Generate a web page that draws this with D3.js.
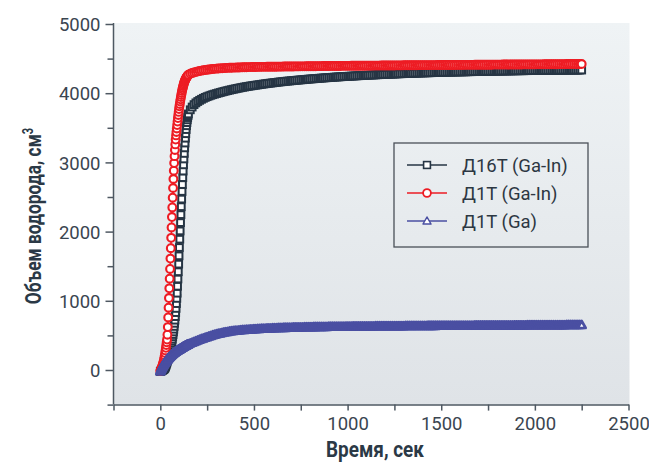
<!DOCTYPE html>
<html><head><meta charset="utf-8">
<script src="https://cdn.jsdelivr.net/npm/d3@7/dist/d3.min.js"></script>
<style>html,body{margin:0;padding:0;background:#fff;}svg{display:block;}</style>
</head><body>
<svg id="chart" width="649" height="463"></svg>
<script>
// ---- data ----
const timesFast = [0,2,4,6,8,10,12,14,16,18,20,22,24,26,28,30,32,34,36,38,40,42,44,46,48,50,52,54,56,58,60,62,64,66,68,70,72,74,76,78,80,82,84,86,88,90,92,94,96,98,100,102,104,106,108,110,112,114,116,118,120,122,124,126,128,130,132,134,136,138,140,142,144,146,148,150];
const timesSlow = [160,170,180,190,200,210,220,230,240,250,260,270,280,290,300,310,320,330,340,350,360,370,380,390,400,410,420,430,440,450,460,470,480,490,500,510,520,530,540,550,560,570,580,590,600,610,620,630,640,650,660,670,680,690,700,710,720,730,740,750,760,770,780,790,800,810,820,830,840,850,860,870,880,890,900,910,920,930,940,950,960,970,980,990,1000,1010,1020,1030,1040,1050,1060,1070,1080,1090,1100,1110,1120,1130,1140,1150,1160,1170,1180,1190,1200,1210,1220,1230,1240,1250,1260,1270,1280,1290,1300,1310,1320,1330,1340,1350,1360,1370,1380,1390,1400,1410,1420,1430,1440,1450,1460,1470,1480,1490,1500,1510,1520,1530,1540,1550,1560,1570,1580,1590,1600,1610,1620,1630,1640,1650,1660,1670,1680,1690,1700,1710,1720,1730,1740,1750,1760,1770,1780,1790,1800,1810,1820,1830,1840,1850,1860,1870,1880,1890,1900,1910,1920,1930,1940,1950,1960,1970,1980,1990,2000,2010,2020,2030,2040,2050,2060,2070,2080,2090,2100,2110,2120,2130,2140,2150,2160,2170,2180,2190,2200,2210,2220,2230,2240,2250];

// Д16Т (Ga-In)
const d16tFast = [-20,-17,-14,-10,-7,-4,0,3,7,10,15,21,28,38,50,65,82,98,115,132,150,170,190,212,235,258,283,310,336,363,390,417,445,480,513,550,590,630,675,720,772,830,890,960,1035,1110,1210,1315,1420,1530,1650,1770,1890,2010,2130,2245,2360,2470,2580,2680,2780,2875,2965,3050,3130,3210,3280,3350,3415,3475,3530,3575,3615,3648,3676,3700];
const d16tSlow = [3760,3800,3835,3860,3880,3897,3912,3926,3939,3950,3960,3970,3979,3987,3995,4003,4010,4018,4025,4032,4038,4045,4051,4057,4063,4069,4074,4080,4085,4090,4095,4099,4104,4108,4112,4116,4120,4124,4128,4132,4136,4139,4143,4146,4150,4153,4156,4160,4163,4166,4169,4172,4175,4177,4180,4183,4185,4188,4190,4193,4195,4198,4200,4203,4205,4207,4209,4211,4214,4216,4218,4220,4222,4224,4226,4228,4230,4232,4234,4235,4237,4239,4241,4242,4244,
4245,4247,4248,4250,4251,4253,4254,4256,4257,4259,
4260,4262,4263,4264,4265,4267,4268,4269,4271,4272,
4273,4274,4275,4276,4277,4279,4280,4281,4282,4283,
4284,4285,4286,4287,4288,4289,4290,4291,4292,4293,
4294,4295,4295,4296,4297,4298,4299,4299,4300,4301,
4302,4302,4303,4304,4304,4305,4306,4306,4307,4308,
4308,4309,4309,4310,4311,4311,4312,4312,4313,4314,
4314,4315,4315,4316,4316,4317,4317,4318,4318,4319,
4319,4320,4320,4321,4321,4322,4322,4323,4323,4324,
4324,4325,4325,4325,4326,4326,4327,4327,4327,4328,
4328,4328,4329,4329,4329,4330,4330,4330,4331,4331,
4331,4332,4332,4332,4332,4333,4333,4333,4333,4334,4334,4334,4334,4335,4335];

// Д1Т (Ga-In)
const d1tGaInFast = [-15,-5,8,20,36,52,70,88,105,122,150,180,210,245,282,320,360,400,440,510,620,760,900,1040,1180,1320,1460,1610,1760,1910,2060,2210,2350,2490,2630,2760,2880,2990,3090,3180,3260,3330,3390,3440,3490,3540,3590,3640,3685,3730,3770,3810,3845,3880,3912,3944,3974,4002,4030,4056,4080,4102,4122,4140,4157,4172,4186,4199,4210,4220,4230,4238,4246,4253,4260,4266];
const d1tGaInSlow = [4282,4292,4300,4308,4315,4321,4326,4331,4335,4339,4343,4346,4349,4352,4355,4357,4359,4361,4363,4364,4366,4367,4368,4369,4370,4371,4372,4373,4374,4375,4376,4377,4377,4378,4379,4379,4380,4380,
4381,4381,4381,4382,4382,4382,4383,4383,4383,4384,4384,4384,4385,4385,4385,4386,4386,4386,4387,4387,4387,4388,4388,4388,4389,4389,4389,4390,4390,4390,4391,4391,4391,4392,4392,4392,4393,4393,4393,4394,4394,4394,4394,4395,4395,4395,4395,
4395,4396,4396,4396,4396,4397,4397,4397,4397,4398,4398,4398,4398,4399,4399,4399,4399,4400,4400,4400,4400,4401,4401,4401,4401,4402,4402,4402,4402,4403,4403,4403,4403,4404,4404,4404,4404,4405,4405,4405,4405,4405,4406,4406,4406,4406,4406,4407,4407,4407,
4407,4407,4408,4408,4408,4408,4408,4409,4409,4409,4409,4409,4410,4410,4410,4410,4410,4411,4411,4411,4411,4411,4412,4412,4412,4412,4412,4413,4413,4413,4413,4413,4414,4414,4414,4414,4414,4415,4415,4415,4415,4415,4415,4416,4416,4416,4416,4416,4416,4416,
4417,4417,4417,4417,4418,4418,4418,4418,4419,4419,4419,4419,4420,4420,4420,4420,4421,4421,4421,4421,4421,4422,4422,4422,4422];

// Д1Т (Ga)
const d1tGaFast = [-20,-5,8,18,30,40,50,60,69,78,87,95,103,111,119,126,133,140,146,152,159,165,171,177,183,189,195,200,205,211,216,221,226,231,236,240,245,249,253,257,261,265,268,272,276,279,283,286,289,293,296,299,303,306,309,313,316,319,322,326,329,332,336,339,342,345,348,351,354,356,359,362,365,367,370,372];
const d1tGaSlow = [384,396,407,418,428,438,448,458,467,476,485,494,502,510,517,524,530,536,542,547,552,556,560,564,567,570,573,576,578,580,582,584,586,588,590,591,593,594,596,597,599,600,601,602,604,605,606,607,608,609,610,610,611,612,613,614,614,615,616,616,617,618,618,619,620,620,621,621,622,622,623,623,624,624,625,625,625,626,626,626,627,627,627,628,628,
628,628,629,629,629,629,630,630,630,630,631,631,631,631,632,632,632,632,633,633,633,633,634,634,634,634,635,635,635,635,636,636,636,636,637,637,637,637,638,638,638,638,639,639,639,639,639,640,640,640,
640,640,640,641,641,641,641,641,641,641,642,642,642,642,642,642,642,643,643,643,643,643,643,643,644,644,644,644,644,644,644,645,645,645,645,645,645,645,646,646,646,646,646,646,646,647,647,647,647,647,647,647,648,648,648,648,648,648,648,649,649,649,649,649,649,649,650,650,650,650,650,650,650,650,650];

const seriesNames = ["Д16Т (Ga-In)", "Д1Т (Ga-In)", "Д1Т (Ga)"];
const xTicks = [0,500,1000,1500,2000,2500];
const xMinorTicks = [-250,250,750,1250,1750,2250];
const yTicks = [0,1000,2000,3000,4000,5000];
const yMinorTicks = [-500,500,1500,2500,3500,4500];
const xTitle = "Время, сек";
const yTitle = "Объем водорода, см";

// ---- drawing ----
const times = timesFast.concat(timesSlow);
const seriesValues = [d16tFast.concat(d16tSlow), d1tGaInFast.concat(d1tGaInSlow), d1tGaFast.concat(d1tGaSlow)];
const colors = ["#263544", "#ed1c24", "#4a4fa2"];
const shapes = ["square", "circle", "triangle"];

const svg = d3.select("#chart");
const L = 113.5, R = 628.5, T = 23, B = 404.6;
const x = d3.scaleLinear().domain([-250, 2500]).range([L, R]);
const y = d3.scaleLinear().domain([-500, 5000]).range([B, 24]);

const defs = svg.append("defs");
const grad = defs.append("linearGradient").attr("id","bg").attr("x1",0).attr("y1",0).attr("x2",0).attr("y2",1);
grad.append("stop").attr("offset","0%").attr("stop-color","#eff3f5");
grad.append("stop").attr("offset","100%").attr("stop-color","#dfe3e7");
svg.append("rect").attr("x", L).attr("y", T).attr("width", R - L + 1).attr("height", B - T).attr("fill", "url(#bg)");

const axisColor = "#4e5862";
const tickFont = "Roboto, 'DejaVu Sans', sans-serif";

// y axis
const yAxis = svg.append("g").attr("transform", `translate(${L},0)`)
  .call(d3.axisLeft(y).tickValues(yTicks).tickSize(8).tickSizeOuter(0).tickPadding(5).tickFormat(d3.format("d")));
const yMinor = svg.append("g").attr("transform", `translate(${L},0)`)
  .call(d3.axisLeft(y).tickValues(yMinorTicks).tickSize(6).tickSizeOuter(0).tickFormat(""));
yMinor.select(".domain").remove();
// x axis
const xAxis = svg.append("g").attr("transform", `translate(0,${B})`)
  .call(d3.axisBottom(x).tickValues(xTicks).tickSize(6).tickSizeOuter(0).tickPadding(4).tickFormat(d3.format("d")));
const xMinor = svg.append("g").attr("transform", `translate(0,${B})`)
  .call(d3.axisBottom(x).tickValues(xMinorTicks).tickSize(6).tickSizeOuter(0).tickFormat(""));
xMinor.select(".domain").remove();
yAxis.select(".domain").attr("d", `M0,${B}V${T}`);
[yAxis, xAxis, yMinor, xMinor].forEach(g => {
  g.selectAll(".domain, .tick line").attr("stroke", axisColor).attr("stroke-width", 1.5);
  g.selectAll("text").attr("font-family", tickFont).attr("font-size", 18.5).attr("fill", "#3a4550");
});
yAxis.selectAll("text").attr("dy", "0.36em");
xAxis.selectAll("text").attr("dy", "0.85em");

// axis titles
svg.append("text").attr("transform", `translate(375,457) scale(0.86,1)`)
  .attr("text-anchor","middle").attr("font-family", tickFont).attr("font-weight", 700)
  .attr("font-size", 22).attr("fill", "#2b3946").text(xTitle);
const yt = svg.append("text").attr("transform", `translate(41,216) rotate(-90) scale(0.79,1)`)
  .attr("text-anchor","middle").attr("font-family", tickFont).attr("font-weight", 700)
  .attr("font-size", 22).attr("fill", "#2b3946");
yt.append("tspan").text(yTitle);
yt.append("tspan").attr("font-size", 14).attr("dy", -8).text("3");

// marker drawing
function drawMarker(g, shape, cx, cy, color, scale, legend) {
  const s = scale || 1;
  if (shape === "circle") {
    g.append("circle").attr("cx", cx).attr("cy", cy).attr("r", 3.9 * s)
      .attr("fill", "#fff").attr("stroke", color).attr("stroke-width", legend ? 1.8 : 2.1);
  } else if (shape === "square") {
    const h = 3.4 * s;
    g.append("rect").attr("x", cx - h).attr("y", cy - h).attr("width", 2*h).attr("height", 2*h)
      .attr("fill", "#fff").attr("stroke", color).attr("stroke-width", legend ? 1.6 : 2.0);
  } else {
    const h = 4.0 * s;
    g.append("path").attr("d", `M${cx},${cy - h}L${cx + h},${cy + h*0.75}L${cx - h},${cy + h*0.75}Z`)
      .attr("fill", "#fff").attr("stroke", color).attr("stroke-width", legend ? 1.5 : 2.7).attr("stroke-linejoin", "round");
  }
}

const line = d3.line().x(d => x(d[0])).y(d => y(d[1]));
seriesValues.forEach((vals, i) => {
  const pts = times.map((t, k) => [t, vals[k]]);
  const g = svg.append("g");
  g.append("path").datum(pts).attr("d", line).attr("fill","none").attr("stroke", colors[i]).attr("stroke-width", 1.5);
  pts.forEach(p => drawMarker(g, shapes[i], x(p[0]), y(p[1]), colors[i]));
});

// legend
const lg = svg.append("g");
lg.append("rect").attr("x", 394).attr("y", 143).attr("width", 194).attr("height", 104)
  .attr("fill", "none").attr("stroke", "#4a5058").attr("stroke-width", 1.3);
seriesNames.forEach((name, i) => {
  const cy = 165 + i * 28;
  lg.append("line").attr("x1", 407).attr("x2", 447).attr("y1", cy).attr("y2", cy)
    .attr("stroke", colors[i]).attr("stroke-width", 1.5);
  drawMarker(lg, shapes[i], 427, cy, colors[i], 1.0, true);
  lg.append("text").attr("x", 462).attr("y", cy).attr("dy", "0.36em")
    .attr("font-family", tickFont).attr("font-size", 18.5).attr("fill", "#2d3742").text(name);
});
</script>
</body></html>
